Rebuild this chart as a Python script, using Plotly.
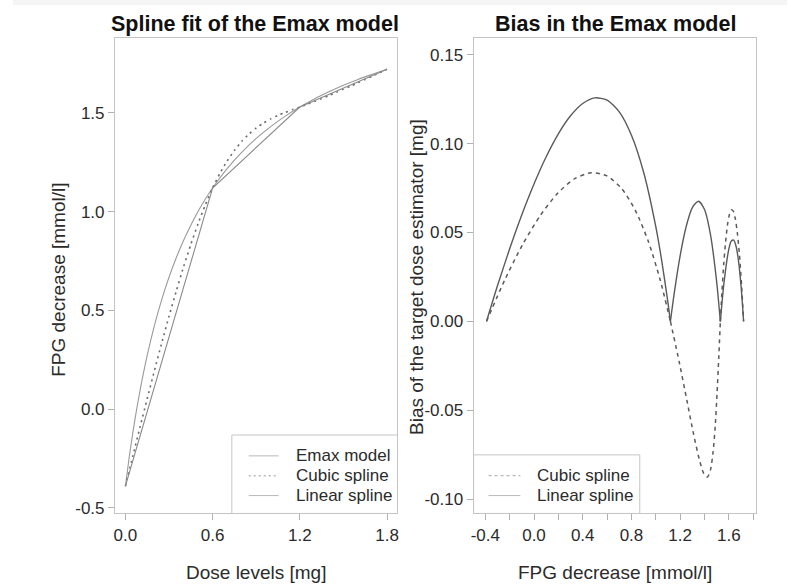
import plotly.graph_objects as go

# ---------------- data ----------------
# Left panel: dose (mg) vs FPG decrease (mmol/l)
emax_dose = [0, 0.025, 0.05, 0.075, 0.1, 0.15, 0.2, 0.25, 0.3, 0.35, 0.4, 0.45, 0.5, 0.55, 0.6,
             0.7, 0.8, 0.9, 1.0, 1.1, 1.2, 1.3, 1.4, 1.5, 1.6, 1.7, 1.8]
emax_fpg = [-0.39, -0.250, -0.125, -0.011, 0.092, 0.272, 0.425, 0.555, 0.668, 0.767, 0.854, 0.932,
            1.001, 1.064, 1.120, 1.218, 1.300, 1.371, 1.431, 1.484, 1.530, 1.571, 1.607, 1.640,
            1.670, 1.696, 1.721]

cubic_dose = [0, 0.05, 0.1, 0.15, 0.2, 0.25, 0.3, 0.35, 0.4, 0.45, 0.5, 0.55, 0.6, 0.65, 0.7, 0.75,
              0.8, 0.85, 0.9, 0.95, 1.0, 1.05, 1.1, 1.15, 1.2, 1.25, 1.3, 1.35, 1.4, 1.45, 1.5,
              1.55, 1.6, 1.65, 1.7, 1.75, 1.8]
cubic_fpg = [-0.39, -0.241, -0.093, 0.053, 0.196, 0.335, 0.470, 0.598, 0.720, 0.834, 0.939, 1.035,
             1.120, 1.194, 1.257, 1.310, 1.356, 1.393, 1.424, 1.449, 1.470, 1.488, 1.503, 1.517,
             1.530, 1.544, 1.558, 1.573, 1.588, 1.604, 1.620, 1.636, 1.653, 1.670, 1.687, 1.704,
             1.721]

linear_dose = [0, 0.6, 1.2, 1.8]
linear_fpg = [-0.39, 1.12, 1.53, 1.721]

# Right panel: FPG decrease (mmol/l) vs bias of target dose estimator (mg)
bias_cubic_fpg = cubic_fpg
bias_cubic = [0, 0.0232, 0.0433, 0.0597, 0.0722, 0.0803, 0.0836, 0.0818, 0.0747, 0.0622, 0.0449,
              0.0236, 0, -0.0234, -0.0450, -0.0634, -0.0772, -0.0854, -0.0875, -0.0835, -0.0736,
              -0.0588, -0.0404, -0.0203, 0, 0.0174, 0.0325, 0.0446, 0.0540, 0.0600, 0.0627,
              0.0620, 0.0577, 0.0495, 0.0373, 0.0205, 0]

bias_linear_fpg = [-0.39, -0.3, -0.2, -0.1, 0.0, 0.1, 0.2, 0.3, 0.4, 0.5, 0.6, 0.7, 0.8, 0.9, 1.0,
                   1.05, 1.1, 1.12, 1.15, 1.2, 1.25, 1.3, 1.35, 1.4, 1.45, 1.5, 1.52, 1.53, 1.56,
                   1.6, 1.62, 1.64, 1.66, 1.68, 1.70, 1.71, 1.721]
bias_linear = [0, 0.0200, 0.0408, 0.0600, 0.0773, 0.0926, 0.1055, 0.1156, 0.1225, 0.1257, 0.1244,
               0.1178, 0.1047, 0.0839, 0.0533, 0.0335, 0.0104, 0, 0.0152, 0.0370, 0.0535, 0.0640,
               0.0676, 0.0629, 0.0484, 0.0221, 0.0077, 0, 0.0218, 0.0408, 0.0452, 0.0457, 0.0420,
               0.0335, 0.0198, 0.0109, 0]

left_xticks = [0.0, 0.6, 1.2, 1.8]
left_xticklabels = ["0.0", "0.6", "1.2", "1.8"]
left_yticks = [-0.5, 0.0, 0.5, 1.0, 1.5]
left_yticklabels = ["-0.5", "0.0", "0.5", "1.0", "1.5"]
right_xticks = [-0.4, -0.2, 0.0, 0.2, 0.4, 0.6, 0.8, 1.0, 1.2, 1.4, 1.6, 1.8]
right_xticklabels = ["-0.4", "", "0.0", "", "0.4", "", "0.8", "", "1.2", "", "1.6", ""]
right_yticks = [-0.10, -0.05, 0.0, 0.05, 0.10, 0.15]
right_yticklabels = ["-0.10", "-0.05", "0.00", "0.05", "0.10", "0.15"]

title_left = "Spline fit of the Emax model"
title_right = "Bias in the Emax model"
xlabel_left = "Dose levels [mg]"
ylabel_left = "FPG decrease [mmol/l]"
xlabel_right = "FPG decrease [mmol/l]"
ylabel_right = "Bias of the target dose estimator [mg]"
legend_left = ["Emax model", "Cubic spline", "Linear spline"]
legend_right = ["Cubic spline", "Linear spline"]

# ---------------- styles ----------------
W, H = 788, 585
FONT = "Liberation Sans, Arial, sans-serif"
TXT = "#2b2b2b"
BOX = "#c4c4c4"

style_emax = dict(color="#9a9a9a", width=1.1)
style_cubic_l = dict(color="#6a6a6a", width=1.6, dash="2px,4px")
style_linear_l = dict(color="#8a8a8a", width=1.1)
style_cubic_r = dict(color="#5a5a5a", width=1.5, dash="4px,4px")
style_linear_r = dict(color="#5a5a5a", width=1.4)


def px_x(p):
    return p / W


def px_y(p):
    return (H - p) / H


def split_at_zeros(xs, ys):
    """Split a bias curve into humps between its zero crossings (keeps the cusps sharp)."""
    idx = [i for i, v in enumerate(ys) if v == 0]
    parts = []
    for a, b in zip(idx[:-1], idx[1:]):
        parts.append((xs[a:b + 1], ys[a:b + 1]))
    return parts


fig = go.Figure()

# left panel
fig.add_trace(go.Scatter(x=emax_dose, y=emax_fpg, mode="lines",
                         line=dict(shape="spline", smoothing=0.6, **style_emax),
                         xaxis="x", yaxis="y", hoverinfo="skip"))
fig.add_trace(go.Scatter(x=cubic_dose, y=cubic_fpg, mode="lines",
                         line=dict(shape="spline", smoothing=0.6, **style_cubic_l),
                         xaxis="x", yaxis="y", hoverinfo="skip"))
fig.add_trace(go.Scatter(x=linear_dose, y=linear_fpg, mode="lines",
                         line=style_linear_l, xaxis="x", yaxis="y", hoverinfo="skip"))

# right panel
for xs, ys in split_at_zeros(bias_cubic_fpg, bias_cubic):
    fig.add_trace(go.Scatter(x=xs, y=ys, mode="lines",
                             line=dict(shape="spline", smoothing=0.7, **style_cubic_r),
                             xaxis="x2", yaxis="y2", hoverinfo="skip"))
for xs, ys in split_at_zeros(bias_linear_fpg, bias_linear):
    fig.add_trace(go.Scatter(x=xs, y=ys, mode="lines",
                             line=dict(shape="spline", smoothing=0.7, **style_linear_r),
                             xaxis="x2", yaxis="y2", hoverinfo="skip"))

axis_common = dict(showline=True, linecolor=BOX, linewidth=1, mirror=True,
                   showgrid=False, zeroline=False, ticks="outside", ticklen=6,
                   tickcolor="#b0b0b0", tickwidth=1,
                   tickfont=dict(family=FONT, size=17, color=TXT))

fig.update_layout(
    width=W, height=H,
    margin=dict(l=0, r=0, t=0, b=0),
    paper_bgcolor="white", plot_bgcolor="white",
    font=dict(family=FONT, color=TXT),
    showlegend=False,
    xaxis=dict(domain=[px_x(112.5), px_x(396.5)], range=[-0.072, 1.872], anchor="y",
               tickmode="array", tickvals=left_xticks, ticktext=left_xticklabels, **axis_common),
    yaxis=dict(domain=[px_y(517), px_y(38)], range=[-0.528, 1.881], anchor="x",
               tickmode="array", tickvals=left_yticks, ticktext=left_yticklabels, **axis_common),
    xaxis2=dict(domain=[px_x(473), px_x(757)], range=[-0.496, 1.824], anchor="y2",
                tickmode="array", tickvals=right_xticks, ticktext=right_xticklabels, **axis_common),
    yaxis2=dict(domain=[px_y(517), px_y(38)], range=[-0.108, 0.1595], anchor="x2",
                tickmode="array", tickvals=right_yticks, ticktext=right_yticklabels, **axis_common),
)

annotations = [
    dict(text="<b>%s</b>" % title_left, x=px_x(253), y=px_y(24), font=dict(size=21.5, color="#111111")),
    dict(text="<b>%s</b>" % title_right, x=px_x(616), y=px_y(24), font=dict(size=21.5, color="#111111")),
    dict(text=xlabel_left, x=px_x(254), y=px_y(576), font=dict(size=19, color=TXT)),
    dict(text=xlabel_right, x=px_x(615), y=px_y(576), font=dict(size=19, color=TXT)),
    dict(text=ylabel_left, x=px_x(55), y=px_y(282), textangle=-90, font=dict(size=19, color=TXT)),
    dict(text=ylabel_right, x=px_x(415), y=px_y(279), textangle=-90, font=dict(size=19, color=TXT)),
]
for a in annotations:
    a.update(xanchor="center", yanchor="middle")

shapes = [
    dict(type="rect", x0=px_x(10), x1=1, y0=px_y(5), y1=1,
         fillcolor="#f5f5f5", line=dict(width=0), layer="below"),
]

# hand-drawn legends (boxes, samples, labels), in paper coordinates
LEG_SAMPLE = "#b8b8b8"
legend_specs = [
    # box (x0, x1, y0, y1), sample x range, text x, row y's, labels, sample styles
    ((230, 396.5, 438, 517), (247, 277), 292, [459, 479, 499], legend_left,
     [dict(width=1), dict(width=1.4, dash="2px,3px"), dict(width=1)]),
    ((473, 640, 458, 517), (488, 520), 535, [479, 499], legend_right,
     [dict(width=1.2, dash="3px,3px"), dict(width=1)]),
]
for (bx0, bx1, by0, by1), (sx0, sx1), tx, rows, labels, sstyles in legend_specs:
    shapes.append(dict(type="rect", x0=px_x(bx0), x1=px_x(bx1), y0=px_y(by1), y1=px_y(by0),
                       fillcolor="white", line=dict(color=BOX, width=1), layer="above"))
    for ry, lab, st in zip(rows, labels, sstyles):
        shapes.append(dict(type="line", x0=px_x(sx0), x1=px_x(sx1), y0=px_y(ry), y1=px_y(ry),
                           line=dict(color=LEG_SAMPLE, **st), layer="above"))
        annotations.append(dict(text=lab, x=px_x(tx), y=px_y(ry), xanchor="left", yanchor="middle",
                                font=dict(size=17, color=TXT)))

for a in annotations:
    a.update(xref="paper", yref="paper", showarrow=False)
    a["font"]["family"] = FONT
for s in shapes:
    s.update(xref="paper", yref="paper")

fig.update_layout(annotations=annotations, shapes=shapes)

fig.write_html("out.html")
